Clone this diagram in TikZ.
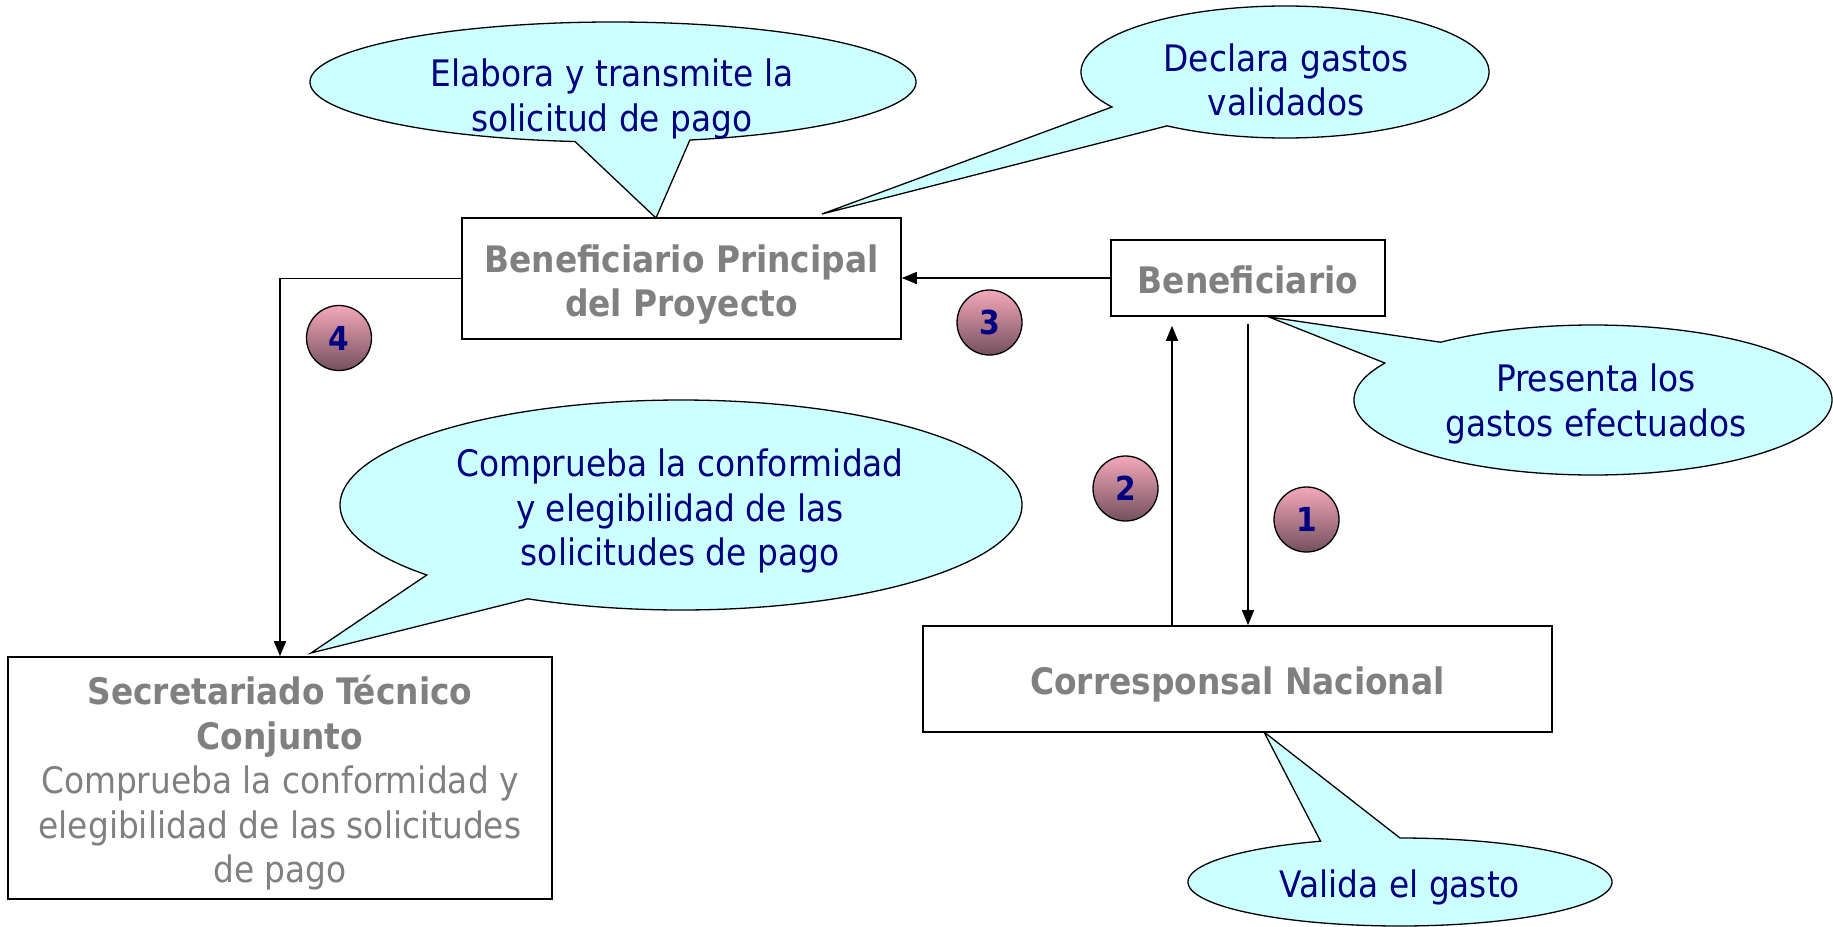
\documentclass[tikz,border=0pt]{standalone}
\usepackage{fontspec}
\setmainfont{DejaVu Sans Condensed}
\usetikzlibrary{arrows.meta,calc}
\definecolor{calloutfill}{HTML}{CCFFFF}
\definecolor{navytext}{HTML}{000080}
\definecolor{boxgray}{HTML}{808080}
\definecolor{pinktop}{HTML}{F4A8BA}
\definecolor{mauvebot}{HTML}{74505E}
\tikzset{
  boxnode/.style={draw=black, line width=1.6pt, fill=white, rectangle, inner sep=0pt},
  boxtext/.style={inner sep=0pt, align=center, text=boxgray, font=\fontsize{36.5}{44.5}\selectfont\bfseries},
  callout/.style={draw=black, line width=1.3pt, fill=calloutfill},
  callouttext/.style={text=navytext, align=center, inner sep=0pt, font=\fontsize{36.5}{44.5}\selectfont},
  numcircle/.style={circle, draw=black, line width=1.3pt, top color=pinktop, bottom color=mauvebot, minimum size=65pt, inner sep=0pt, text=navytext, font=\fontsize{33}{38}\selectfont\bfseries},
  arr/.style={line width=1.5pt, -{Triangle[length=15pt,width=12pt]}},
}
% cx cy rx ry ta tb tip
\newcommand{\mycallout}[7]{%
  \filldraw[callout] ({#1+#3*cos(#5)},{#2+#4*sin(#5)}) -- #7 -- plot[domain=#6:#5+360,samples=240,variable=\t] ({#1+#3*cos(\t)},{#2+#4*sin(\t)}) -- cycle;}
\begin{document}
\begin{tikzpicture}[x=1pt,y=-1pt]
\useasboundingbox (0,0) rectangle (1833,926);
\fill[white] (0,0) rectangle (1833,926);

% callouts
\mycallout{613}{82}{303}{60}{75.3}{97.2}{(656,218)}
\mycallout{1285}{72}{204}{66}{125.3}{148}{(822,214)}
\mycallout{1593}{400}{239}{75}{209.5}{230.4}{(1269,317)}
\mycallout{681}{505}{341}{105}{116.7}{138.2}{(311,653)}
\mycallout{1400}{882}{212}{44}{248}{270}{(1264,732)}

\node[callouttext] (tA) at (612,99) {Elabora y transmite la\\solicitud de pago};
\node[callouttext] (tB) at (1286,80) {Declara gastos\\validados};
\node[callouttext] (tC) at (1596,404) {Presenta los\\gastos efectuados};
\node[callouttext] (tD) at (680,511) {Comprueba la conformidad\\y elegibilidad de las\\solicitudes de pago};
\node[callouttext] (tE) at (1400,887) {Valida el gasto};

% boxes
\node[boxnode, minimum width=439pt, minimum height=121pt] (bpp) at (681.5,278.5) {};
\node[boxnode, minimum width=274pt, minimum height=76pt] (benef) at (1248,278) {};
\node[boxnode, minimum width=629pt, minimum height=106pt] (cn) at (1237.5,679) {};
\node[boxnode, minimum width=544pt, minimum height=242pt] (sec) at (280,778) {};

\node[boxtext] (bppT) at ($(bpp.center)+(0,6)$) {Beneficiario Principal\\del Proyecto};
\node[boxtext] (benefT) at ($(benef.center)+(0,2)$) {Beneficiario};
\node[boxtext] (cnT) at ($(cn.center)+(0,5)$) {Corresponsal Nacional};
\node[boxtext] (secT) at ($(sec.center)+(0,5)$) {Secretariado Técnico\\Conjunto\\{\mdseries Comprueba la conformidad y}\\{\mdseries elegibilidad de las solicitudes}\\{\mdseries de pago}};

% connectors
\draw[arr] (benef.west) -- (benef.west -| bpp.east);
\draw[arr] (bpp.west) -| (sec.north);
\draw[arr, shorten <=7pt] (benef.south) -- (benef.south |- cn.north);
\coordinate (c2) at (1172,0);
\draw[arr, shorten >=9pt] (c2 |- cn.north) -- (c2 |- benef.south);

% numbers
\node[numcircle] (n1) at (1306.5,519.5) {1};
\node[numcircle] (n2) at (1125.5,488.5) {2};
\node[numcircle] (n3) at (989.5,322.5) {3};
\node[numcircle] (n4) at (339,338) {4};
\end{tikzpicture}
\end{document}
